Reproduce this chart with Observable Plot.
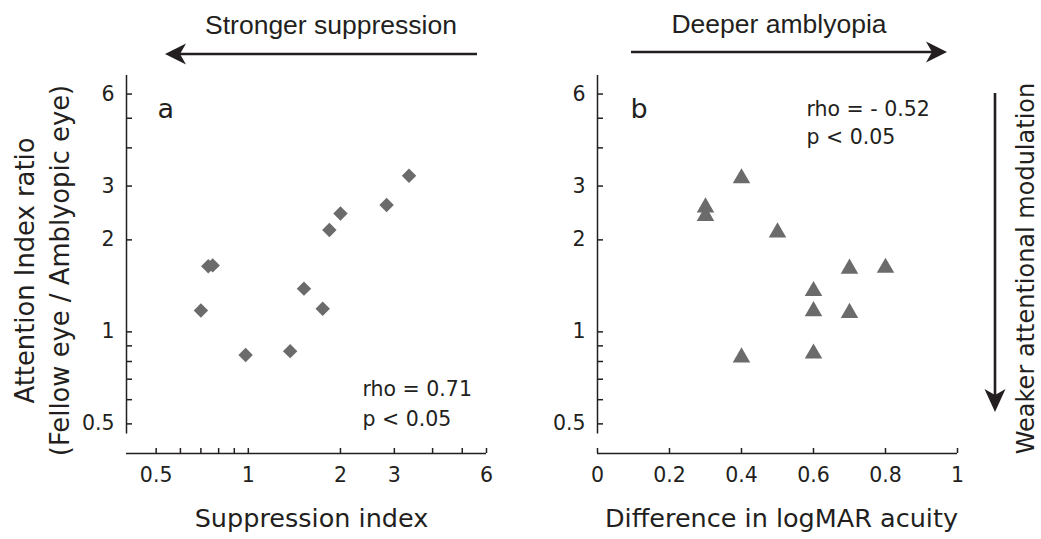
<!DOCTYPE html>
<html>
<head>
<meta charset="utf-8">
<script src="https://cdn.jsdelivr.net/npm/d3@7"></script>
<script src="https://cdn.jsdelivr.net/npm/@observablehq/plot@0.6"></script>
<style>
html, body { margin: 0; padding: 0; background: #fff; }
#chart { position: relative; width: 1041px; height: 539px; overflow: hidden; background: #fff; }
#chart > svg { position: absolute; top: 0; }
</style>
</head>
<body>
<div id="chart"></div>
<script>
// ---- Panel a: suppression index vs attention index ratio
const suppressionIndex = [0.70, 0.74, 0.765, 0.98, 1.37, 1.52, 1.75, 1.84, 2.00, 2.83, 3.35];
const attentionRatioA  = [1.175, 1.64, 1.65, 0.84, 0.865, 1.385, 1.19, 2.155, 2.44, 2.60, 3.24];

// ---- Panel b: difference in logMAR acuity vs attention index ratio
const logmarDifference = [0.3, 0.3, 0.4, 0.5, 0.7, 0.8, 0.6, 0.6, 0.7, 0.4, 0.6];
const attentionRatioB  = [2.60, 2.44, 3.24, 2.155, 1.64, 1.65, 1.385, 1.19, 1.175, 0.84, 0.865];

// ---- Ticks
const yTickValues  = [0.5, 0.6, 0.7, 0.8, 0.9, 1, 2, 3, 4, 5, 6];
const yTickLabels  = [0.5, 1, 2, 3, 6];
const xTickValuesA = [0.5, 0.6, 0.7, 0.8, 0.9, 1, 2, 3, 4, 5, 6];
const xTickLabelsA = [0.5, 1, 2, 3, 6];
const xTickValuesB = [0, 0.2, 0.4, 0.6, 0.8, 1];
const xTickLabelsB = [0, 0.2, 0.4, 0.6, 0.8, 1];

// ---- Texts
const yTitle1 = "Attention Index ratio";
const yTitle2 = "(Fellow eye / Amblyopic eye)";
const xTitleA = "Suppression index";
const xTitleB = "Difference in logMAR acuity";
const statsA = ["rho = 0.71", "p < 0.05"];
const statsB = ["rho = - 0.52", "p < 0.05"];
const topLabelA = "Stronger suppression";
const topLabelB = "Deeper amblyopia";
const sideLabel = "Weaker attentional modulation";

const INK = "#231f20";
const MARK = "#6b6b6b";
const FONT = "DejaVu Sans";

const tableA = suppressionIndex.map((x, i) => ({x, y: attentionRatioA[i]}));
const tableB = logmarDifference.map((x, i) => ({x, y: attentionRatioB[i]}));

const yDomain = [0.4, 6.9];
const yAxisBottom = 0.463;
const frameH = 539 - 75 - 86;

function axesMarks(xDomainMin, xTickValues, xTickLabels, frameW) {
  return [
    Plot.ruleY([yDomain[0]], {stroke: INK, strokeWidth: 1.5}),
    Plot.ruleX([xDomainMin], {y1: yAxisBottom, y2: yDomain[1], stroke: INK, strokeWidth: 1.5}),
    Plot.ruleX(xTickValues, {insetTop: frameH - 5, stroke: INK, strokeWidth: 1.5}),
    Plot.ruleY(yTickValues, {insetRight: frameW - 6, stroke: INK, strokeWidth: 1.5}),
    Plot.text(xTickLabels, {x: d => d, text: d => String(d), frameAnchor: "bottom",
      lineAnchor: "top", dy: 14, fontSize: 20.5, fill: INK}),
    Plot.text(yTickLabels, {y: d => d, text: d => String(d), frameAnchor: "left",
      textAnchor: "end", dx: -12, fontSize: 20.5, fill: INK})
  ];
}

const plotA = Plot.plot({
  width: 520, height: 539,
  marginLeft: 126, marginRight: 34, marginTop: 75, marginBottom: 86,
  style: {fontFamily: FONT, color: INK, background: "transparent", overflow: "visible"},
  x: {type: "log", domain: [0.4, 6], axis: null},
  y: {type: "log", domain: yDomain, axis: null},
  marks: [
    ...axesMarks(0.4, xTickValuesA, xTickLabelsA, 360),
    Plot.dot(tableA, {x: "x", y: "y", symbol: "diamond2", r: 6.5, fill: MARK, stroke: "none"}),
    Plot.text(["a"], {text: d => d, frameAnchor: "top-left", textAnchor: "start",
      lineAnchor: "bottom", dx: 31, dy: 42, fontSize: 27, fill: INK}),
    Plot.text([statsA[0]], {text: d => d, frameAnchor: "top-left", textAnchor: "start",
      lineAnchor: "bottom", dx: 236, dy: 320, fontSize: 20.5, fill: INK}),
    Plot.text([statsA[1]], {text: d => d, frameAnchor: "top-left", textAnchor: "start",
      lineAnchor: "bottom", dx: 236, dy: 350, fontSize: 20.5, fill: INK}),
    Plot.text([xTitleA], {text: d => d, frameAnchor: "bottom", lineAnchor: "bottom",
      dx: 5, dy: 73, fontSize: 25.5, fill: INK}),
    Plot.text([yTitle1], {text: d => d, frameAnchor: "left", textAnchor: "middle", rotate: -90,
      lineAnchor: "bottom", dx: -93, dy: 6, fontSize: 25.8, fill: INK}),
    Plot.text([yTitle2], {text: d => d, frameAnchor: "left", textAnchor: "middle", rotate: -90,
      lineAnchor: "bottom", dx: -58, dy: 6, fontSize: 25.8, fill: INK})
  ]
});
plotA.style.left = "0px";

const plotB = Plot.plot({
  width: 521, height: 539,
  marginLeft: 77, marginRight: 84, marginTop: 75, marginBottom: 86,
  style: {fontFamily: FONT, color: INK, background: "transparent", overflow: "visible"},
  x: {type: "linear", domain: [0, 1], axis: null},
  y: {type: "log", domain: yDomain, axis: null},
  marks: [
    ...axesMarks(0, xTickValuesB, xTickLabelsB, 360),
    Plot.dot(tableB, {x: "x", y: "y", symbol: "triangle", r: 6.5, dy: 2.4, fill: MARK, stroke: "none"}),
    Plot.text(["b"], {text: d => d, frameAnchor: "top-left", textAnchor: "start",
      lineAnchor: "bottom", dx: 33, dy: 42, fontSize: 27, fill: INK}),
    Plot.text([statsB[0]], {text: d => d, frameAnchor: "top-left", textAnchor: "start",
      lineAnchor: "bottom", dx: 209, dy: 40, fontSize: 20.5, fill: INK}),
    Plot.text([statsB[1]], {text: d => d, frameAnchor: "top-left", textAnchor: "start",
      lineAnchor: "bottom", dx: 209, dy: 68, fontSize: 20.5, fill: INK}),
    Plot.text([xTitleB], {text: d => d, frameAnchor: "bottom", lineAnchor: "bottom",
      dx: 4, dy: 73, fontSize: 25.5, fill: INK}),
    Plot.text([sideLabel], {text: d => d, frameAnchor: "right", textAnchor: "middle", rotate: -90,
      lineAnchor: "bottom", dx: 76, dy: 4, fontSize: 24, fill: INK})
  ]
});
plotB.style.left = "520px";

const chart = document.getElementById("chart");
chart.appendChild(plotA);
chart.appendChild(plotB);

// ---- Annotation arrows and top labels
const ov = d3.select(chart).append("svg")
  .attr("width", 1041).attr("height", 539)
  .style("left", "0px").style("pointer-events", "none");

ov.append("text").attr("x", 331).attr("y", 33.5).attr("text-anchor", "middle")
  .attr("font-family", "Liberation Sans, Arial, sans-serif").attr("font-size", 26.5)
  .attr("fill", INK).text(topLabelA);
ov.append("text").attr("x", 779).attr("y", 33).attr("text-anchor", "middle")
  .attr("font-family", "Liberation Sans, Arial, sans-serif").attr("font-size", 26.5)
  .attr("fill", INK).text(topLabelB);

// left arrow (pointing left)
ov.append("line").attr("x1", 477).attr("x2", 178).attr("y1", 54).attr("y2", 54)
  .attr("stroke", INK).attr("stroke-width", 2.6);
ov.append("path").attr("d", "M165,54 L186,43.5 L180,54 L186,64.5 Z").attr("fill", INK);

// right arrow (pointing right)
ov.append("line").attr("x1", 631).attr("x2", 934).attr("y1", 52).attr("y2", 52)
  .attr("stroke", INK).attr("stroke-width", 2.6);
ov.append("path").attr("d", "M947,52 L926,41.5 L932,52 L926,62.5 Z").attr("fill", INK);

// vertical arrow (pointing down)
ov.append("line").attr("x1", 995).attr("x2", 995).attr("y1", 93).attr("y2", 398)
  .attr("stroke", INK).attr("stroke-width", 2.6);
ov.append("path").attr("d", "M995,412 L984.5,389 L995,395 L1005.5,389 Z").attr("fill", INK);
</script>
</body>
</html>
